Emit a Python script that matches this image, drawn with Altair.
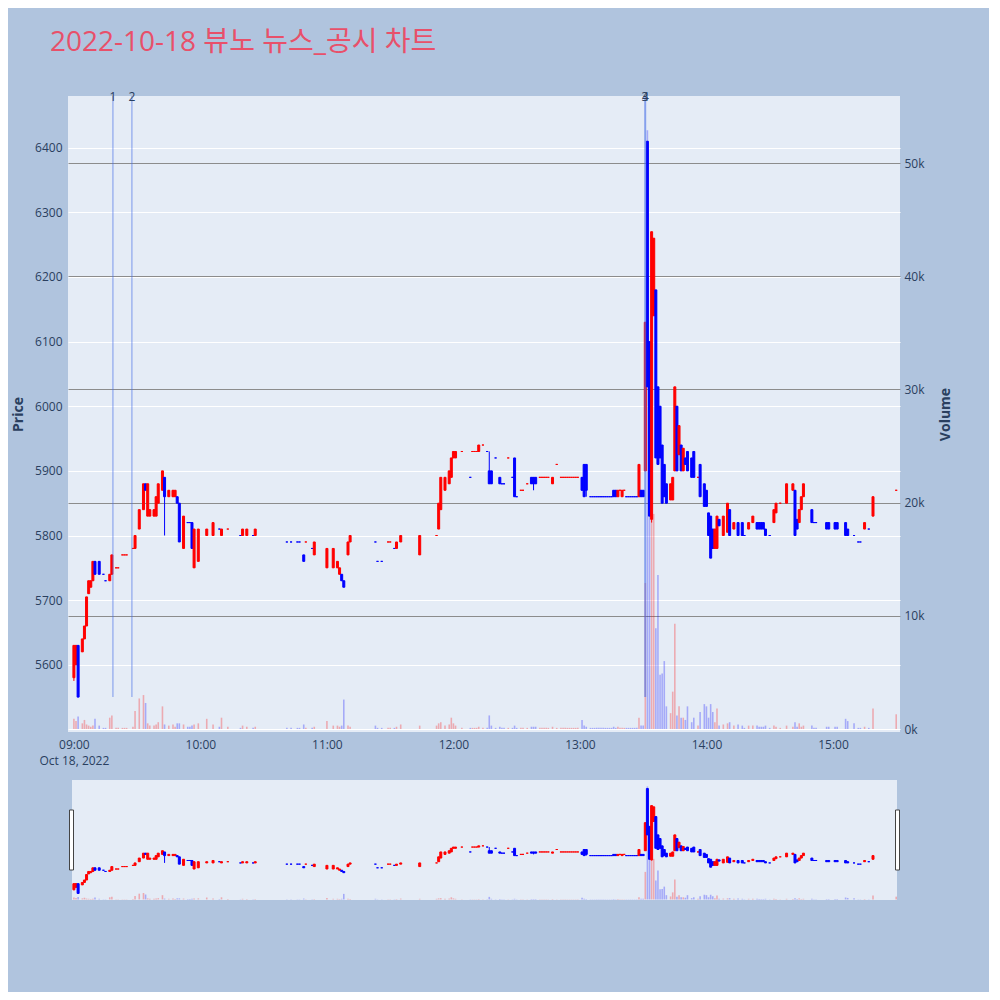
import altair as alt
import numpy as np
import pandas as pd

# 1분봉: 9시부터 지난 분, 시가, 종가, 거래량
minute = [0, 1, 2, 4, 5, 6, 7, 8, 9, 10,
          12, 14, 15, 17, 18, 20, 21, 23, 24, 25,
          28, 29, 31, 33, 34, 35, 36, 38, 39, 40,
          42, 43, 45, 47, 48, 49, 50, 52, 54, 55,
          56, 57, 59, 63, 66, 69, 70, 73, 79, 80,
          82, 85, 86, 101, 103, 106, 107, 109, 110, 113,
          114, 120, 123, 125, 126, 127, 128, 130, 131, 143,
          144, 146, 149, 150, 152, 153, 155, 164, 172, 173,
          174, 176, 178, 179, 180, 181, 184, 188, 189, 190,
          191, 192, 194, 196, 197, 198, 200, 202, 203, 204,
          206, 208, 209, 210, 212, 213, 215, 217, 218, 219,
          221, 222, 223, 224, 225, 227, 229, 231, 232, 233,
          234, 235, 236, 237, 238, 239, 241, 242, 243, 245,
          246, 247, 248, 249, 250, 251, 252, 253, 254, 255,
          256, 257, 258, 259, 260, 261, 262, 263, 264, 265,
          266, 267, 268, 269, 270, 271, 272, 273, 274, 275,
          276, 277, 278, 279, 280, 281, 283, 284, 285, 286,
          287, 288, 289, 290, 291, 293, 294, 296, 297, 299,
          300, 301, 302, 303, 304, 305, 306, 308, 310, 311,
          313, 315, 317, 318, 320, 322, 324, 325, 326, 327,
          328, 330, 332, 333, 335, 338, 341, 342, 343, 344,
          345, 346, 350, 351, 352, 357, 358, 361, 362, 366,
          367, 370, 372, 373, 375, 377, 379, 390]

open_ = [5580, 5600, 5630, 5620, 5640, 5660, 5710, 5720, 5730, 5760,
         5760, 5740, 5730, 5730, 5740, 5750, 5750, 5770, 5770, 5770,
         5780, 5780, 5810, 5840, 5880, 5830, 5830, 5830, 5830, 5850,
         5870, 5890, 5860, 5860, 5860, 5860, 5850, 5780, 5820, 5820,
         5820, 5750, 5760, 5800, 5800, 5810, 5800, 5810, 5800, 5800,
         5800, 5800, 5800, 5790, 5790, 5790, 5790, 5770, 5790, 5780,
         5770, 5750, 5750, 5750, 5740, 5740, 5730, 5770, 5790, 5790,
         5760, 5760, 5790, 5790, 5780, 5780, 5790, 5770, 5800, 5810,
         5840, 5870, 5880, 5890, 5920, 5920, 5930, 5890, 5930, 5930,
         5930, 5930, 5940, 5930, 5900, 5900, 5920, 5890, 5880, 5880,
         5920, 5890, 5920, 5860, 5870, 5870, 5880, 5890, 5890, 5890,
         5890, 5890, 5890, 5890, 5890, 5880, 5910, 5890, 5890, 5890,
         5890, 5890, 5890, 5890, 5890, 5890, 5890, 5910, 5910, 5860,
         5860, 5860, 5860, 5860, 5860, 5860, 5860, 5860, 5860, 5860,
         5870, 5870, 5860, 5870, 5860, 5870, 5860, 5860, 5860, 5860,
         5860, 5860, 5860, 5870, 5870, 5900, 6410, 6100, 5825, 6140,
         6180, 6030, 6000, 5940, 5910, 5880, 5855, 5855, 5900, 6000,
         5925, 5940, 5900, 5920, 5930, 5920, 5930, 5890, 5910, 5880,
         5870, 5835, 5830, 5810, 5780, 5780, 5825, 5800, 5805, 5840,
         5810, 5820, 5820, 5800, 5810, 5820, 5820, 5820, 5820, 5820,
         5810, 5800, 5820, 5835, 5850, 5850, 5870, 5870, 5825, 5820,
         5840, 5860, 5840, 5820, 5820, 5820, 5820, 5820, 5820, 5820,
         5810, 5800, 5790, 5790, 5810, 5810, 5830, 5870]

close_ = [5630, 5630, 5550, 5640, 5660, 5705, 5730, 5730, 5760, 5740,
          5740, 5740, 5730, 5740, 5770, 5750, 5750, 5770, 5770, 5770,
          5780, 5800, 5840, 5880, 5870, 5880, 5840, 5840, 5860, 5880,
          5900, 5860, 5870, 5870, 5870, 5850, 5790, 5830, 5820, 5820,
          5780, 5810, 5810, 5810, 5820, 5810, 5810, 5810, 5800, 5810,
          5810, 5800, 5810, 5790, 5790, 5790, 5790, 5760, 5790, 5780,
          5790, 5780, 5780, 5760, 5750, 5730, 5720, 5790, 5800, 5790,
          5760, 5760, 5790, 5790, 5780, 5790, 5800, 5800, 5800, 5850,
          5890, 5890, 5900, 5920, 5930, 5930, 5930, 5890, 5930, 5930,
          5930, 5940, 5940, 5930, 5880, 5880, 5920, 5880, 5880, 5880,
          5920, 5890, 5860, 5860, 5870, 5870, 5880, 5880, 5880, 5880,
          5890, 5890, 5890, 5890, 5890, 5890, 5910, 5890, 5890, 5890,
          5890, 5890, 5890, 5890, 5890, 5890, 5870, 5860, 5870, 5860,
          5860, 5860, 5860, 5860, 5860, 5860, 5860, 5860, 5860, 5860,
          5860, 5860, 5870, 5870, 5870, 5870, 5860, 5860, 5860, 5860,
          5860, 5860, 5910, 5860, 5860, 6130, 6030, 5830, 6270, 6260,
          5920, 5910, 5920, 5850, 5860, 5850, 5880, 5890, 6030, 5900,
          5970, 5900, 5935, 5910, 5900, 5890, 5890, 5890, 5860, 5845,
          5845, 5800, 5765, 5780, 5810, 5830, 5815, 5830, 5850, 5800,
          5820, 5800, 5800, 5800, 5820, 5830, 5810, 5810, 5810, 5810,
          5800, 5800, 5840, 5850, 5850, 5880, 5880, 5800, 5810, 5840,
          5860, 5880, 5820, 5820, 5820, 5810, 5810, 5810, 5810, 5800,
          5800, 5800, 5790, 5790, 5820, 5810, 5860, 5870]

volume = [900, 700, 1100, 500, 800, 400, 300, 200, 300, 900,
          300, 100, 100, 1000, 1200, 100, 100, 100, 100, 100,
          200, 1600, 2700, 3000, 2300, 500, 300, 300, 400, 600,
          2000, 400, 300, 400, 200, 500, 500, 400, 200, 200,
          300, 400, 500, 900, 400, 200, 1000, 200, 100, 300,
          200, 100, 200, 100, 100, 100, 100, 400, 100, 100,
          200, 700, 300, 300, 200, 300, 2600, 300, 200, 300,
          100, 100, 100, 100, 100, 200, 400, 300, 300, 500,
          600, 300, 400, 1000, 500, 300, 100, 100, 100, 100,
          100, 200, 100, 100, 1200, 300, 100, 200, 100, 100,
          100, 100, 300, 100, 100, 100, 100, 200, 200, 200,
          100, 100, 100, 100, 100, 200, 100, 100, 100, 100,
          100, 100, 100, 100, 100, 100, 800, 300, 200, 100,
          100, 100, 100, 100, 100, 100, 100, 100, 100, 100,
          200, 100, 200, 100, 100, 100, 100, 100, 100, 100,
          100, 100, 1000, 300, 300, 12900, 52900, 20000, 19000, 19000,
          8900, 13600, 4800, 4900, 6000, 2000, 1400, 3300, 9300, 1200,
          2000, 1000, 1000, 800, 2000, 600, 1000, 300, 1500, 2200,
          2000, 1000, 2200, 1500, 600, 1800, 300, 400, 500, 600,
          300, 400, 300, 100, 300, 300, 300, 200, 200, 200,
          300, 100, 300, 200, 100, 300, 200, 600, 200, 500,
          200, 300, 300, 100, 100, 200, 200, 200, 200, 900,
          700, 500, 100, 100, 200, 100, 1800, 1300]

# 시가와 종가가 같은 봉 중 빨간색으로 그려진 분
flat_red = [20, 21, 23, 24, 25, 28, 73, 110, 149, 150, 172, 184, 189, 190,
            191, 194, 206, 212, 213, 215, 221, 222, 223, 224, 225, 229,
            231, 232, 233, 234, 235, 236, 237, 238, 239, 259, 261, 296,
            335, 390]

# 몸통 밖으로 꼬리가 보이는 봉
wick_minute = [0, 43, 197, 218, 243, 274]
wick_low = [5575, 5800, 5880, 5870, 5860, 5820]
wick_high = [5630, 5890, 5930, 5890, 5910, 6270]

# 뉴스/공시 시점 (분)
news_minute = [18.5, 27.5, 270.8, 271.1]
news_label = ["1", "2", "3", "4"]

price_ticks = [5600, 5700, 5800, 5900, 6000, 6100, 6200, 6300, 6400]
volume_ticks = [0, 10000, 20000, 30000, 40000, 50000]

day0 = pd.Timestamp("2022-10-18 09:00:00")

df = pd.DataFrame({"minute": minute, "open": open_, "close": close_, "volume": volume})
df["time"] = day0 + pd.to_timedelta(df["minute"], unit="m")
df["high"] = df[["open", "close"]].max(axis=1)
df["low"] = df[["open", "close"]].min(axis=1)
for m, lo, hi in zip(wick_minute, wick_low, wick_high):
    df.loc[df["minute"] == m, "low"] = lo
    df.loc[df["minute"] == m, "high"] = hi
df["dir"] = np.where(df["close"] > df["open"], "up",
                     np.where(df["close"] < df["open"], "down",
                              np.where(df["minute"].isin(flat_red), "up", "down")))
df["vol0"] = 0

news = pd.DataFrame({"time": day0 + pd.to_timedelta(news_minute, unit="m"), "label": news_label})
news["bottom"] = 5550

FONT = "'Open Sans', 'Noto Sans CJK KR', sans-serif"
TXT = "#2a3f5f"

x_dom = [alt.DateTime(year=2022, month=10, date=18, hours=8, minutes=57, seconds=12),
         alt.DateTime(year=2022, month=10, date=18, hours=15, minutes=31, seconds=48)]
x_scale = alt.Scale(domain=x_dom, nice=False, padding=0)
price_scale = alt.Scale(domain=[5496, 6480], zero=False, nice=False)
vol_scale = alt.Scale(domain=[-265, 55919], zero=False, nice=False)
color = alt.Color("dir:N", scale=alt.Scale(domain=["up", "down"], range=["#ff0000", "#0000ff"]), legend=None)

x_axis = alt.Axis(
    values=[alt.DateTime(year=2022, month=10, date=18, hours=h) for h in range(9, 16)],
    labelExpr="hours(datum.value) == 9 ? ['09:00', 'Oct 18, 2022'] : timeFormat(datum.value, '%H:%M')",
    title=None, grid=False, ticks=False, domain=False, labelPadding=7, labelLineHeight=16,
)
price_axis = alt.Axis(values=price_ticks, format="d", title="Price", grid=True, gridColor="white", gridWidth=1,
                      ticks=False, domain=False, labelPadding=6,
                      titleX=-50, titleY=318, titleAngle=270, titleAlign="center", titleBaseline="middle")
vol_axis = alt.Axis(values=volume_ticks, format="~s", orient="right", title="Volume", grid=True,
                    gridColor=alt.condition("datum.value === 0", alt.value("white"), alt.value("#8c8c8c")),
                    gridWidth=1, ticks=False, domain=False, labelPadding=4,
                    titleX=45, titleY=318, titleAngle=270, titleAlign="center", titleBaseline="middle")


def layers(show_axes):
    base = alt.Chart(df)
    xa = x_axis if show_axes else None
    vol = base.mark_bar(width=1.6, opacity=0.28).encode(
        x=alt.X("time:T", scale=x_scale, axis=xa),
        y=alt.Y("volume:Q", scale=vol_scale, axis=vol_axis if show_axes else None),
        y2="vol0:Q",
        color=color,
    )
    wick = base.mark_rule(strokeWidth=1).encode(
        x=alt.X("time:T", scale=x_scale, axis=xa),
        y=alt.Y("low:Q", scale=price_scale, axis=price_axis if show_axes else None),
        y2="high:Q",
        color=color,
    )
    body = base.mark_bar(width=2, strokeWidth=1).encode(
        x="time:T",
        y="open:Q",
        y2="close:Q",
        color=color,
        stroke=color,
    )
    price_layers = [wick, body]
    if show_axes:
        line = alt.Chart(news).mark_rule(color="#466ee6", opacity=0.45, strokeWidth=1.5).encode(
            x="time:T", y="bottom:Q", y2=alt.value(0))
        label = alt.Chart(news).mark_text(color=TXT, fontSize=12, baseline="middle", font=FONT).encode(
            x="time:T", y=alt.value(1), text="label:N")
        price_layers += [line, label]
    return alt.layer(vol, alt.layer(*price_layers)).resolve_scale(y="independent")


main = layers(True).properties(width=832, height=636)

edge = pd.DataFrame({"x": [0]})
strip = alt.Chart(edge).mark_rect(color="#b0c4de").encode(
    x=alt.value(0), x2=alt.value(4), y=alt.value(0), y2=alt.value(120))
strip_r = alt.Chart(edge).mark_rect(color="#b0c4de").encode(
    x=alt.value(829), x2=alt.value(832), y=alt.value(0), y2=alt.value(120))
hl = alt.Chart(edge).mark_rect(fill="white", stroke="#444444", strokeWidth=1).encode(
    x=alt.value(1.5), x2=alt.value(5.5), y=alt.value(30), y2=alt.value(90))
hr = alt.Chart(edge).mark_rect(fill="white", stroke="#444444", strokeWidth=1).encode(
    x=alt.value(827.5), x2=alt.value(831.5), y=alt.value(30), y2=alt.value(90))
slider = alt.layer(layers(False), strip, strip_r, hl, hr).properties(width=832, height=120)

chart = alt.vconcat(main, slider, spacing=14).properties(
    title=alt.TitleParams("2022-10-18 뷰노 뉴스_공시 차트", anchor="start", fontSize=28, color="#e8506a",
                          font=FONT, fontWeight="normal", dx=39, offset=34),
    background="#b0c4de",
    padding={"left": 3, "top": 21, "right": 37, "bottom": 92},
).configure_view(
    fill="#e5ecf6", stroke=None
).configure_axis(
    labelColor=TXT, labelFontSize=12, labelFont=FONT,
    titleColor=TXT, titleFontSize=14, titleFont=FONT, titleFontWeight="bold",
)

chart.save("out.html", embed_options={"renderer": "svg", "actions": False})
